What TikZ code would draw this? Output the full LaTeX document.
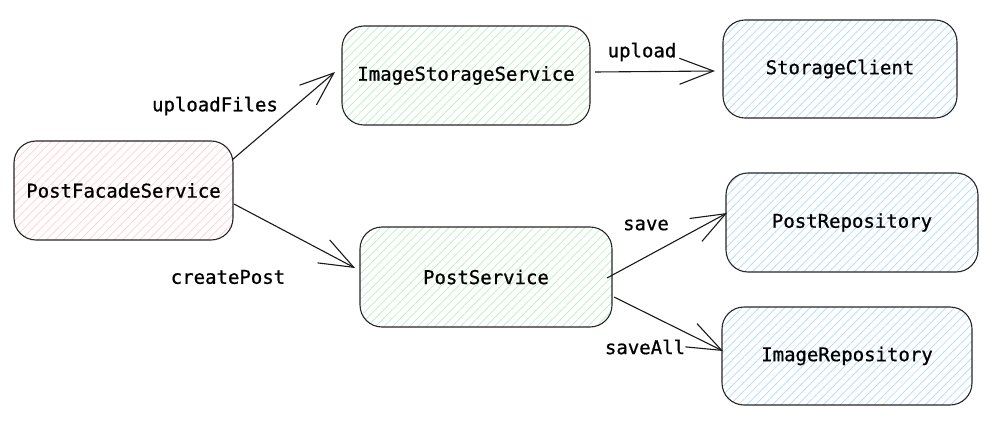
\documentclass[tikz,border=0pt]{standalone}
\usepackage{fontspec}
\newfontfamily\lblfont[FakeBold=0.8]{DejaVu Sans Mono}
\usetikzlibrary{patterns.meta,arrows.meta}
\definecolor{pinkh}{RGB}{255,205,210}
\definecolor{greenh}{RGB}{185,238,192}
\definecolor{blueh}{RGB}{175,218,250}
\begin{document}
\begin{tikzpicture}[x=1pt,y=-1pt,
  box/.style={draw=black!85,line width=1.1pt,rounded corners=22pt,anchor=center,
    font=\lblfont\fontsize{19}{23}\selectfont,inner sep=0pt},
  pinkbox/.style={box,pattern={Lines[angle=45,distance=6pt,line width=0.7pt]},pattern color=pinkh},
  greenbox/.style={box,pattern={Lines[angle=45,distance=6pt,line width=0.7pt]},pattern color=greenh},
  bluebox/.style={box,pattern={Lines[angle=45,distance=6pt,line width=0.7pt]},pattern color=blueh},
  lbl/.style={font=\lblfont\fontsize{19}{23}\selectfont,inner sep=0pt,anchor=center},
  arr/.style={draw=black!90,line width=1.1pt,-{Straight Barb[length=34pt,width=26pt,line width=1.1pt]}}]
\useasboundingbox (0,0) rectangle (1000,422);
\node[pinkbox,minimum width=219pt,minimum height=99pt] (pfs) at (123.5,190.5) {PostFacadeService};
\node[greenbox,minimum width=248pt,minimum height=99pt] (iss) at (466,75.5) {ImageStorageService};
\node[bluebox,minimum width=234pt,minimum height=98pt] (sc) at (840,69) {StorageClient};
\node[greenbox,minimum width=252pt,minimum height=100pt] (ps) at (486,277) {PostService};
\node[bluebox,minimum width=252pt,minimum height=99pt] (pr) at (852,222.5) {PostRepository};
\node[bluebox,minimum width=250pt,minimum height=98pt] (ir) at (847,356) {ImageRepository};
\coordinate (a1s) at (232,160); \coordinate (a1e) at (335,72);
\coordinate (a2s) at (234,204); \coordinate (a2e) at (355,268);
\coordinate (a3s) at (595,72); \coordinate (a3e) at (715,71);
\coordinate (a4s) at (607,278); \coordinate (a4e) at (727,213);
\coordinate (a5s) at (614,297); \coordinate (a5e) at (723,351);
\draw[arr] (a1s) -- (a1e);
\draw[arr] (a2s) -- (a2e);
\draw[arr] (a3s) -- (a3e);
\draw[arr] (a4s) -- (a4e);
\draw[arr] (a5s) -- (a5e);
\node[lbl] (l1) at (215,106) {uploadFiles};
\node[lbl] (l2) at (228,277) {createPost};
\node[lbl] (l3) at (642,52) {upload};
\node[lbl] (l4) at (646,225) {save};
\node[lbl] (l5) at (645,347) {saveAll};
\end{tikzpicture}
\end{document}
